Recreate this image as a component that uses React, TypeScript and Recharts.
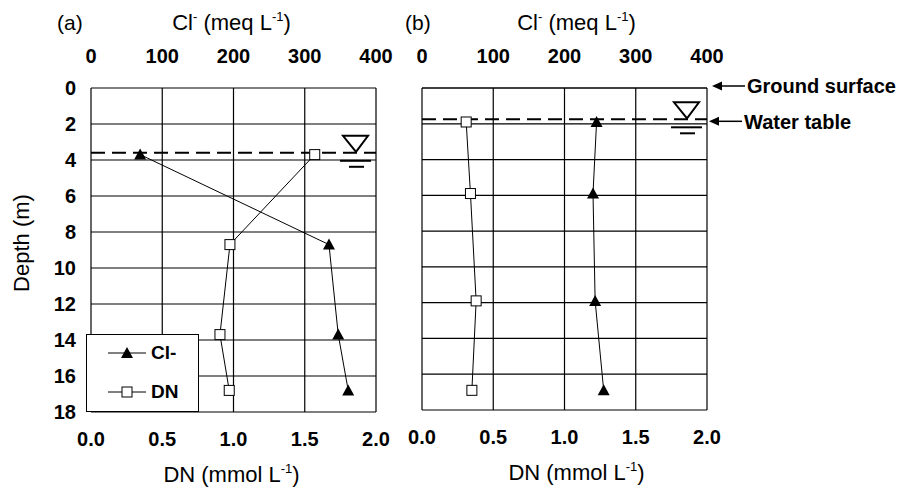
import React from "react";
import {
  CartesianGrid,
  Legend,
  ReferenceLine,
  Scatter,
  ScatterChart,
  XAxis,
  YAxis,
} from "recharts";

const depthTicks = [0, 2, 4, 6, 8, 10, 12, 14, 16, 18];
const clTicks = [0, 100, 200, 300, 400];
const dnTicks = [0, 0.5, 1, 1.5, 2];

// panel (a)
const depthsA = [3.7, 8.7, 13.7, 16.8];
const clA = [69, 334, 347, 361];
const dnA = [1.57, 0.975, 0.905, 0.97];
const waterTableA = 3.6;

// panel (b)
const depthsB = [1.9, 5.9, 11.9, 16.9];
const clB = [245, 240, 243, 255];
const dnB = [0.31, 0.34, 0.38, 0.35];
const waterTableB = 1.75;

const FONT = "'Liberation Sans', Arial, sans-serif";
const tickStyle = { fontSize: 20, fontWeight: 700, fill: "#000" };

const toPoints = (depths: number[], vals: number[]) =>
  depths.map((d, i) => ({ depth: d, v: vals[i] }));

function Triangle({ cx, cy }: any) {
  return <path d={`M${cx},${cy - 6} L${cx + 6},${cy + 5} L${cx - 6},${cy + 5} Z`} fill="#000" />;
}

function Square({ cx, cy }: any) {
  return <rect x={cx - 5} y={cy - 5} width={10} height={10} fill="#fff" stroke="#000" strokeWidth={1} />;
}

function Arrow({ x, y, text }: { x: number; y: number; text: string }) {
  return (
    <g>
      <path d={`M${x},${y} L${x + 10},${y - 4.5} L${x + 10},${y + 4.5} Z`} fill="#000" />
      <line x1={x + 8} y1={y} x2={x + 33} y2={y} stroke="#000" strokeWidth={1.5} />
      <text x={x + 35} y={y} dy="0.36em" fontSize={20} fontWeight={700} fill="#000">
        {text}
      </text>
    </g>
  );
}

function WaterMark({ viewBox, note }: any) {
  const right = viewBox.x + viewBox.width;
  const y = viewBox.y;
  return (
    <g>
      <path
        d={`M${right - 33},${y - 17} L${right - 8},${y - 17} L${right - 20},${y - 1} Z`}
        fill="#fff"
        stroke="#000"
        strokeWidth={2}
      />
      <line x1={right - 36} y1={y + 8} x2={right - 5} y2={y + 8} stroke="#000" strokeWidth={2} />
      <line x1={right - 27} y1={y + 14} x2={right - 12} y2={y + 14} stroke="#000" strokeWidth={2} />
      {note && <Arrow x={right + 2} y={y + 2} text={note} />}
    </g>
  );
}

function GroundNote({ viewBox }: any) {
  return <Arrow x={viewBox.x + viewBox.width + 5} y={viewBox.y - 2} text="Ground surface" />;
}

function TopTitle({ viewBox, tag, tagX, shift }: any) {
  const cx = viewBox.x + viewBox.width / 2 + shift;
  return (
    <g>
      <text x={tagX} y={30} fontSize={21} fill="#000">
        {tag}
      </text>
      <text x={cx} y={30} textAnchor="middle" fontSize={22} fill="#000">
        <tspan>Cl</tspan>
        <tspan fontSize={13} dy={-9}>-</tspan>
        <tspan dy={9}> (meq L</tspan>
        <tspan fontSize={13} dy={-9}>-1</tspan>
        <tspan dy={9}>)</tspan>
      </text>
    </g>
  );
}

function BottomTitle({ viewBox, shift }: any) {
  const cx = viewBox.x + viewBox.width / 2 + shift;
  return (
    <text x={cx} y={viewBox.y + 70} textAnchor="middle" fontSize={22} fill="#000">
      <tspan>DN (mmol L</tspan>
      <tspan fontSize={13} dy={-9}>-1</tspan>
      <tspan dy={9}>)</tspan>
    </text>
  );
}

function DepthTitle() {
  return (
    <text x={29} y={243} transform="rotate(-90 29 243)" textAnchor="middle" fontSize={22} fill="#000">
      Depth (m)
    </text>
  );
}

function LegendBox({ payload }: any) {
  return (
    <div
      style={{
        width: 113,
        height: 78,
        boxSizing: "border-box",
        border: "1.5px solid #000",
        background: "#fff",
        fontFamily: FONT,
      }}
    >
      {(payload || []).map((p: any, i: number) => (
        <div key={p.value} style={{ position: "absolute", left: 0, top: i === 0 ? 8 : 47, height: 22, display: "flex", alignItems: "center" }}>
          <svg width={62} height={22}>
            <line x1={22} y1={11} x2={60} y2={11} stroke="#000" strokeWidth={1} />
            {p.type === "triangle" ? (
              <path d="M41,5 L47,16 L35,16 Z" fill="#000" />
            ) : (
              <rect x={36} y={6} width={10} height={10} fill="#fff" stroke="#000" />
            )}
          </svg>
          <span style={{ fontSize: 19, fontWeight: 700, marginLeft: 3 }}>{p.value}</span>
        </div>
      ))}
    </div>
  );
}

function Panel({
  tag,
  tagX,
  shift,
  depths,
  cl,
  dn,
  waterTable,
  width,
  margin,
  bottomH,
  isA,
}: any) {
  return (
    <ScatterChart width={width} height={493} margin={margin}>
      <CartesianGrid stroke="#000" strokeWidth={1.2} />
      <XAxis
        xAxisId="cl"
        type="number"
        dataKey="v"
        orientation="top"
        domain={[0, 400]}
        ticks={clTicks}
        height={88}
        axisLine={false}
        tickLine={false}
        tickSize={0}
        tickMargin={25}
        tick={tickStyle}
        label={<TopTitle tag={tag} tagX={tagX} shift={shift} />}
      />
      <XAxis
        type="number"
        dataKey="v"
        domain={[0, 2]}
        ticks={dnTicks}
        tickFormatter={(v: number) => v.toFixed(1)}
        height={bottomH}
        axisLine={false}
        tickLine={false}
        tickSize={0}
        tickMargin={20}
        tick={tickStyle}
        label={<BottomTitle shift={shift} />}
      />
      <YAxis
        type="number"
        dataKey="depth"
        reversed
        domain={[0, 18]}
        ticks={depthTicks}
        hide={!isA}
        width={91}
        axisLine={false}
        tickLine={false}
        tickSize={0}
        tickMargin={15}
        tick={tickStyle}
        label={<DepthTitle />}
      />
      {!isA && <ReferenceLine y={0} stroke="#000" strokeWidth={1.2} label={<GroundNote />} />}
      <ReferenceLine
        y={waterTable}
        stroke="#000"
        strokeWidth={2}
        strokeDasharray="14 7"
        label={<WaterMark note={isA ? null : "Water table"} />}
      />
      <Scatter
        name="Cl-"
        xAxisId="cl"
        data={toPoints(depths, cl)}
        line={{ stroke: "#000", strokeWidth: 1 }}
        shape={<Triangle />}
        legendType="triangle"
        isAnimationActive={false}
      />
      <Scatter
        name="DN"
        data={toPoints(depths, dn)}
        line={{ stroke: "#000", strokeWidth: 1 }}
        shape={<Square />}
        legendType="square"
        isAnimationActive={false}
      />
      {isA && (
        <Legend
          layout="horizontal"
          verticalAlign="middle"
          align="center"
          wrapperStyle={{ left: 86, top: 334, width: 113, height: 78 }}
          content={<LegendBox />}
        />
      )}
    </ScatterChart>
  );
}

export default function App() {
  return (
    <div
      style={{
        position: "absolute",
        left: 0,
        top: 0,
        width: 905,
        height: 493,
        background: "#fff",
        fontFamily: FONT,
        overflow: "hidden",
      }}
    >
      <div style={{ position: "absolute", left: 0, top: 0 }}>
        <Panel
          isA
          tag="(a)"
          tagX={57}
          shift={-2}
          depths={depthsA}
          cl={clA}
          dn={dnA}
          waterTable={waterTableA}
          width={400}
          margin={{ top: 0, right: 24, bottom: 0, left: 0 }}
          bottomH={81}
        />
      </div>
      <div style={{ position: "absolute", left: 400, top: 0 }}>
        <Panel
          tag="(b)"
          tagX={5}
          shift={12}
          depths={depthsB}
          cl={clB}
          dn={dnB}
          waterTable={waterTableB}
          width={505}
          margin={{ top: 0, right: 198, bottom: 0, left: 22 }}
          bottomH={83}
        />
      </div>
    </div>
  );
}
